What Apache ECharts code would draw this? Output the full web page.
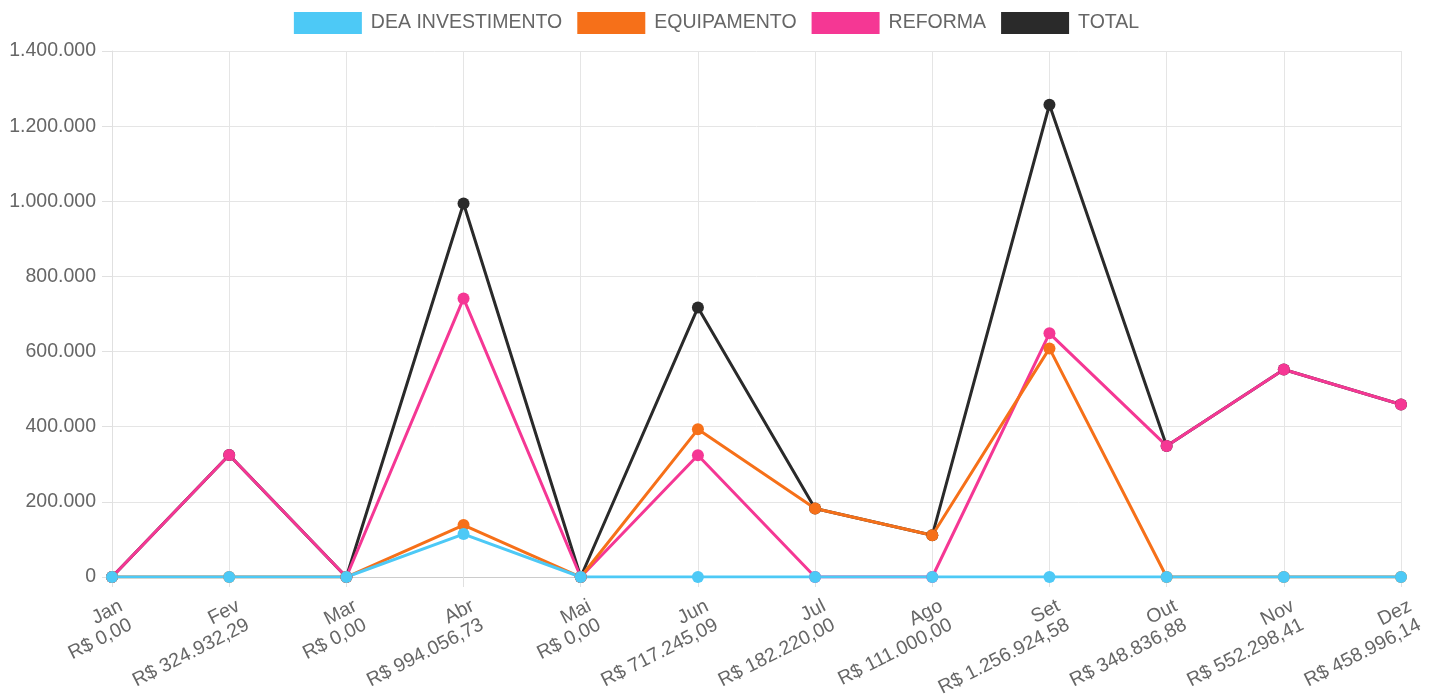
<!DOCTYPE html>
<html>
<head>
<meta charset="utf-8">
<script src="https://cdn.jsdelivr.net/npm/echarts@6/dist/echarts.min.js"></script>
<style>
  html, body { margin: 0; padding: 0; background: #fff; }
  #chart { width: 1433px; height: 700px; }
</style>
</head>
<body>
<div id="chart"></div>
<script>
const months = ['Jan', 'Fev', 'Mar', 'Abr', 'Mai', 'Jun', 'Jul', 'Ago', 'Set', 'Out', 'Nov', 'Dez']
const deaInvestimento = [0, 0, 0, 114256.73, 0, 0, 0, 0, 0, 0, 0, 0]
const equipamento = [0, 0, 0, 138300, 0, 393000, 182220, 111000, 608424.58, 0, 0, 0]
const reforma = [0, 324932.29, 0, 741500, 0, 324245.09, 0, 0, 648500, 348836.88, 552298.41, 458996.14]
const total = [0, 324932.29, 0, 994056.73, 0, 717245.09, 182220, 111000, 1256924.58, 348836.88, 552298.41, 458996.14]

const colors = {
  dea: '#4dc9f6',
  equip: '#f67019',
  reforma: '#f53794',
  total: '#2a2a2a'
}

// formata no padrão brasileiro: 1.234,56
function brl(v) {
  return 'R$ ' + v.toLocaleString('pt-BR', { minimumFractionDigits: 2, maximumFractionDigits: 2 })
}
function milhar(v) {
  return v.toLocaleString('pt-BR', { maximumFractionDigits: 0 })
}

const labels = months.map((m, i) => m + '\n' + brl(total[i]))

function serie(name, data, color) {
  return {
    name: name,
    type: 'line',
    data: data,
    symbol: 'circle',
    symbolSize: 12,
    showAllSymbol: true,
    lineStyle: { color: color, width: 3 },
    itemStyle: { color: color },
    emphasis: { disabled: true }
  }
}

const myChart = echarts.init(document.getElementById('chart'))
const option = {
  animation: false,
  color: [colors.dea, colors.equip, colors.reforma, colors.total],
  legend: {
    top: 7,
    left: 'center',
    data: ['DEA INVESTIMENTO', 'EQUIPAMENTO', 'REFORMA', 'TOTAL'],
    icon: 'rect',
    itemWidth: 68,
    itemHeight: 22,
    itemGap: 15,
    textStyle: {
      fontFamily: 'Liberation Sans',
      fontSize: 19.5,
      color: '#666',
      padding: [0, 0, 0, 4]
    }
  },
  grid: {
    left: 112,
    right: 32,
    top: 51,
    bottom: 122
  },
  xAxis: {
    type: 'category',
    data: labels,
    boundaryGap: false,
    axisLine: { show: true, lineStyle: { color: '#ccc' } },
    axisTick: { show: true, alignWithLabel: true, length: 10, lineStyle: { color: '#e0e0e0' } },
    splitLine: { show: true, lineStyle: { color: '#e5e5e5' } },
    axisLabel: {
      rotate: 27,
      margin: 21,
      interval: 0,
      verticalAlign: 'top',
      padding: [0, -5, 0, 0],
      fontFamily: 'Liberation Sans',
      fontSize: 19.5,
      lineHeight: 21,
      color: '#666'
    }
  },
  yAxis: {
    type: 'value',
    min: 0,
    max: 1400000,
    interval: 200000,
    axisLine: { show: true, lineStyle: { color: '#e0e0e0' } },
    axisTick: { show: true, length: 10, lineStyle: { color: '#e0e0e0' } },
    splitLine: { show: true, lineStyle: { color: '#e5e5e5' } },
    axisLabel: {
      margin: 16,
      fontFamily: 'Liberation Sans',
      fontSize: 19.5,
      color: '#666',
      formatter: milhar
    }
  },
  // ordem de desenho: TOTAL embaixo, DEA por cima
  series: [
    serie('TOTAL', total, colors.total),
    serie('REFORMA', reforma, colors.reforma),
    serie('EQUIPAMENTO', equipamento, colors.equip),
    serie('DEA INVESTIMENTO', deaInvestimento, colors.dea)
  ]
}
myChart.setOption(option)
</script>
</body>
</html>
